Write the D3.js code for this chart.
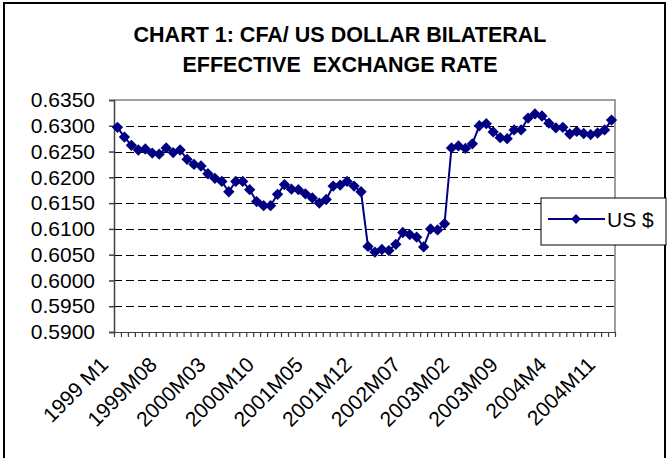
<!DOCTYPE html>
<html>
<head>
<meta charset="utf-8">
<script src="https://cdn.jsdelivr.net/npm/d3@7"></script>
<style>
    body { margin: 0; background: #fff; }
    text { font-family: "Liberation Sans", Arial, sans-serif; }
</style>
</head>
<body>
<div id="vis"></div>
<script>
// CFA / US dollar bilateral rate, monthly 1999 M1 - 2004 M12
var usd = [
    0.6297, 0.6278, 0.6262, 0.6253, 0.6255, 0.6247, 0.6245, 0.6257, 0.6248, 0.6253, 0.6235, 0.6225,
    0.6222, 0.6207, 0.6198, 0.6192, 0.6172, 0.6192, 0.6192, 0.6176, 0.6153, 0.6145, 0.6145, 0.6167,
    0.6186, 0.6177, 0.6176, 0.6168, 0.6160, 0.6150, 0.6157, 0.6183, 0.6185, 0.6192, 0.6183, 0.6172,
    0.6066, 0.6055, 0.6060, 0.6058, 0.6070, 0.6093, 0.6089, 0.6084, 0.6065, 0.6100, 0.6098, 0.6110,
    0.6257, 0.6261, 0.6256, 0.6265, 0.6300, 0.6304, 0.6288, 0.6277, 0.6275, 0.6292, 0.6292, 0.6315,
    0.6323, 0.6319, 0.6305, 0.6296, 0.6297, 0.6284, 0.6289, 0.6285, 0.6283, 0.6286, 0.6292, 0.6311
];
var months = d3.range(usd.length).map(function(i) {
    return (1999 + Math.floor(i / 12)) + "-" + (i % 12 + 1);
});
// labels shown every 7th month, as written on the original
var xTickLabels = ["1999 M1", "1999M08", "2000M03", "2000M10", "2001M05", "2001M12",
                   "2002M07", "2003M02", "2003M09", "2004M4", "2004M11"];
var yTicks = [0.5900, 0.5950, 0.6000, 0.6050, 0.6100, 0.6150, 0.6200, 0.6250, 0.6300, 0.6350];
var titleLines = ["CHART 1: CFA/ US DOLLAR BILATERAL", "EFFECTIVE  EXCHANGE RATE"];
var seriesName = "US $";

var width = 668,
    height = 458,
    margin = { top: 100, right: 53, bottom: 126, left: 114 };
var navy = "#000080";

var svg = d3.select("#vis").append("svg")
    .attr("width", width)
    .attr("height", height);

// outer chart frame (bottom edge runs off the picture)
svg.append("rect")
    .attr("x", 4).attr("y", 3)
    .attr("width", 661).attr("height", 480)
    .attr("fill", "none")
    .attr("stroke", "#000")
    .attr("stroke-width", 2);

var x = d3.scaleBand()
    .domain(months)
    .range([margin.left, width - margin.right]);
var xEdge = d3.scaleLinear()
    .domain([0, months.length])
    .range([margin.left, width - margin.right]);
var y = d3.scaleLinear()
    .domain([yTicks[0], yTicks[yTicks.length - 1]])
    .range([height - margin.bottom, margin.top]);

var cx = function(d, i) { return x(months[i]) + x.bandwidth() / 2; };

// title
svg.append("g").selectAll("text")
    .data(titleLines)
    .enter().append("text")
    .attr("x", 340)
    .attr("y", function(d, i) { return 42 + i * 30; })
    .attr("text-anchor", "middle")
    .attr("font-size", 21.5)
    .attr("font-weight", "bold")
    .style("white-space", "pre")
    .text(function(d) { return d; });

// plot area border (top / right in grey)
svg.append("path")
    .attr("d", "M" + xEdge(0) + "," + y.range()[1] + "H" + xEdge(months.length) + "V" + y.range()[0])
    .attr("fill", "none")
    .attr("stroke", "#808080")
    .attr("stroke-width", 1.5);

// dashed gridlines
svg.append("g").selectAll("line")
    .data(yTicks.slice(1, -1))
    .enter().append("line")
    .attr("x1", xEdge(0)).attr("x2", xEdge(months.length))
    .attr("y1", function(d) { return Math.round(y(d)) + 0.5; })
    .attr("y2", function(d) { return Math.round(y(d)) + 0.5; })
    .attr("stroke", "#000")
    .attr("stroke-dasharray", "8,4");

// y axis
var yAxis = svg.append("g")
    .attr("transform", "translate(" + margin.left + ",0)")
    .call(d3.axisLeft(y).tickValues(yTicks).tickFormat(d3.format(".4f")).tickSize(5).tickPadding(14));
yAxis.selectAll("text").attr("font-size", 21).attr("fill", "#000").style("font-family", "Liberation Sans, Arial, sans-serif");
yAxis.selectAll("line, path").attr("stroke", "#404040").attr("stroke-width", 1.5);

// x axis: small ticks between categories
var xAxis = svg.append("g")
    .attr("transform", "translate(0," + (height - margin.bottom) + ")")
    .call(d3.axisBottom(xEdge).tickValues(d3.range(months.length + 1)).tickFormat("").tickSize(5).tickSizeOuter(0));
xAxis.selectAll("line, path").attr("stroke", "#404040").attr("stroke-width", 1.2);

// rotated category labels
svg.append("g").selectAll("text")
    .data(xTickLabels)
    .enter().append("text")
    .attr("transform", function(d, i) {
        var px = x(months[i * 7]) + x.bandwidth() / 2 - 8;
        return "translate(" + px + "," + (height - margin.bottom + 34) + ") rotate(-45)";
    })
    .attr("text-anchor", "end")
    .attr("font-size", 21)
    .text(function(d) { return d; });

// series line and diamond markers
var line = d3.line()
    .x(cx)
    .y(function(d) { return y(d); });

svg.append("path")
    .datum(usd)
    .attr("d", line)
    .attr("fill", "none")
    .attr("stroke", navy)
    .attr("stroke-width", 2);

var diamond = d3.symbol().type(d3.symbolSquare).size(64);
svg.append("g").selectAll("path")
    .data(usd)
    .enter().append("path")
    .attr("d", diamond)
    .attr("transform", function(d, i) { return "translate(" + cx(d, i) + "," + y(d) + ") rotate(45)"; })
    .attr("fill", navy);

// legend
var legend = svg.append("g").attr("transform", "translate(541,198)");
legend.append("rect")
    .attr("width", 125).attr("height", 47)
    .attr("fill", "#fff")
    .attr("stroke", "#000");
legend.append("line")
    .attr("x1", 7).attr("x2", 64)
    .attr("y1", 21).attr("y2", 21)
    .attr("stroke", navy).attr("stroke-width", 2);
legend.append("path")
    .attr("d", d3.symbol().type(d3.symbolSquare).size(50))
    .attr("transform", "translate(35,21) rotate(45)")
    .attr("fill", navy);
legend.append("text")
    .attr("x", 66).attr("y", 29)
    .attr("font-size", 21)
    .text(seriesName);
</script>
</body>
</html>
